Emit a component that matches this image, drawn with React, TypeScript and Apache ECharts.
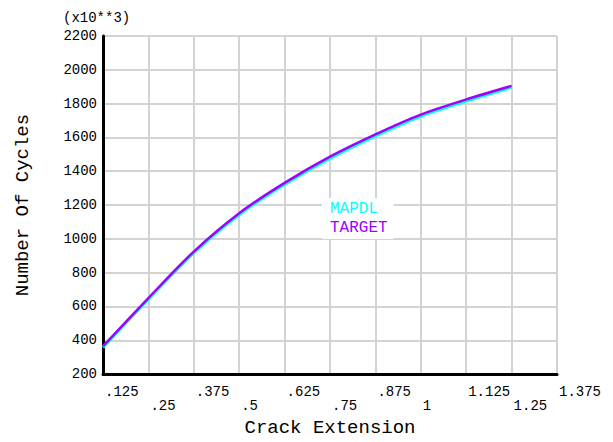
import React, { useEffect, useRef } from "react";
import * as echarts from "echarts";

const crackExtension = [0.125, 0.25, 0.375, 0.5, 0.625, 0.75, 0.875, 1.0, 1.125, 1.25];
const mapdlCycles = [358, 643, 917, 1143, 1322, 1476, 1608, 1725, 1815, 1896];
const targetCycles = [365, 650, 925, 1152, 1331, 1486, 1618, 1735, 1825, 1905];
const seriesNames = ["MAPDL", "TARGET"];
const seriesColors = ["#00ffff", "#a000ff"];

const FONT = "Liberation Mono";

function fmtX(v: number): string {
  const r = Math.round(v * 1000) / 1000;
  let s = String(r);
  if (s.startsWith("0.")) s = s.slice(1);
  const k = Math.round(r / 0.125);
  return k % 2 === 1 ? s : "\n" + s;
}

export default function App() {
  const ref = useRef<HTMLDivElement>(null);
  useEffect(() => {
    if (!ref.current) return;
    const chart = echarts.init(ref.current, undefined, { renderer: "svg" });
    const mk = (vals: number[]) => crackExtension.map((x, i) => [x, vals[i]]);
    chart.setOption({
      animation: false,
      backgroundColor: "#ffffff",
      grid: { left: 103, right: 56, top: 36, bottom: 64, containLabel: false },
      legend: {
        orient: "vertical",
        left: 322,
        top: 198,
        icon: "none",
        itemWidth: 0,
        itemHeight: 10,
        itemGap: 3,
        padding: [3, 6, 3, 3],
        backgroundColor: "#ffffff",
        selectedMode: false,
        data: seriesNames.map((n, i) => ({
          name: n,
          textStyle: { color: seriesColors[i] },
        })),
        textStyle: { fontFamily: FONT, fontSize: 16, lineHeight: 14 },
      },
      graphic: [
        {
          type: "text",
          left: 63,
          top: 11,
          style: { text: "(x10**3)", font: `14px "${FONT}"`, fill: "#000" },
        },
      ],
      xAxis: {
        type: "value",
        min: 0.125,
        max: 1.375,
        interval: 0.125,
        name: "Crack Extension",
        nameLocation: "middle",
        nameGap: 38,
        nameTextStyle: { fontFamily: FONT, fontSize: 19, color: "#000" },
        axisLine: { show: true, onZero: false, lineStyle: { color: "#000", width: 3 } },
        axisTick: { show: false },
        axisLabel: {
          formatter: fmtX,
          fontFamily: FONT,
          fontSize: 14,
          color: "#000",
          align: "left",
          padding: [0, 0, 0, 2],
          lineHeight: 14,
          margin: 11,
          showMinLabel: true,
          showMaxLabel: true,
        },
        splitLine: { show: true, lineStyle: { color: "#d3d3d3", width: 2 } },
      },
      yAxis: {
        type: "value",
        min: 200,
        max: 2200,
        interval: 200,
        name: "Number Of Cycles",
        nameLocation: "middle",
        nameGap: 71,
        nameTextStyle: { fontFamily: FONT, fontSize: 19, color: "#000" },
        axisLine: { show: true, onZero: false, lineStyle: { color: "#000", width: 3 } },
        axisTick: { show: false },
        axisLabel: {
          formatter: (v: number) => String(v),
          fontFamily: FONT,
          fontSize: 14,
          color: "#000",
          margin: 6,
        },
        splitLine: { show: true, lineStyle: { color: "#d3d3d3", width: 2 } },
      },
      series: [
        {
          name: seriesNames[0],
          type: "line",
          data: mk(mapdlCycles),
          showSymbol: false,
          smooth: 0.3,
          lineStyle: { color: seriesColors[0], width: 3 },
          itemStyle: { color: seriesColors[0] },
          z: 2,
        },
        {
          name: seriesNames[1],
          type: "line",
          data: mk(targetCycles),
          showSymbol: false,
          smooth: 0.3,
          lineStyle: { color: seriesColors[1], width: 2.5 },
          itemStyle: { color: seriesColors[1] },
          z: 3,
        },
      ],
    });
    return () => chart.dispose();
  }, []);
  return (
    <div
      ref={ref}
      style={{ position: "absolute", left: 0, top: 0, width: 613, height: 442 }}
    />
  );
}
